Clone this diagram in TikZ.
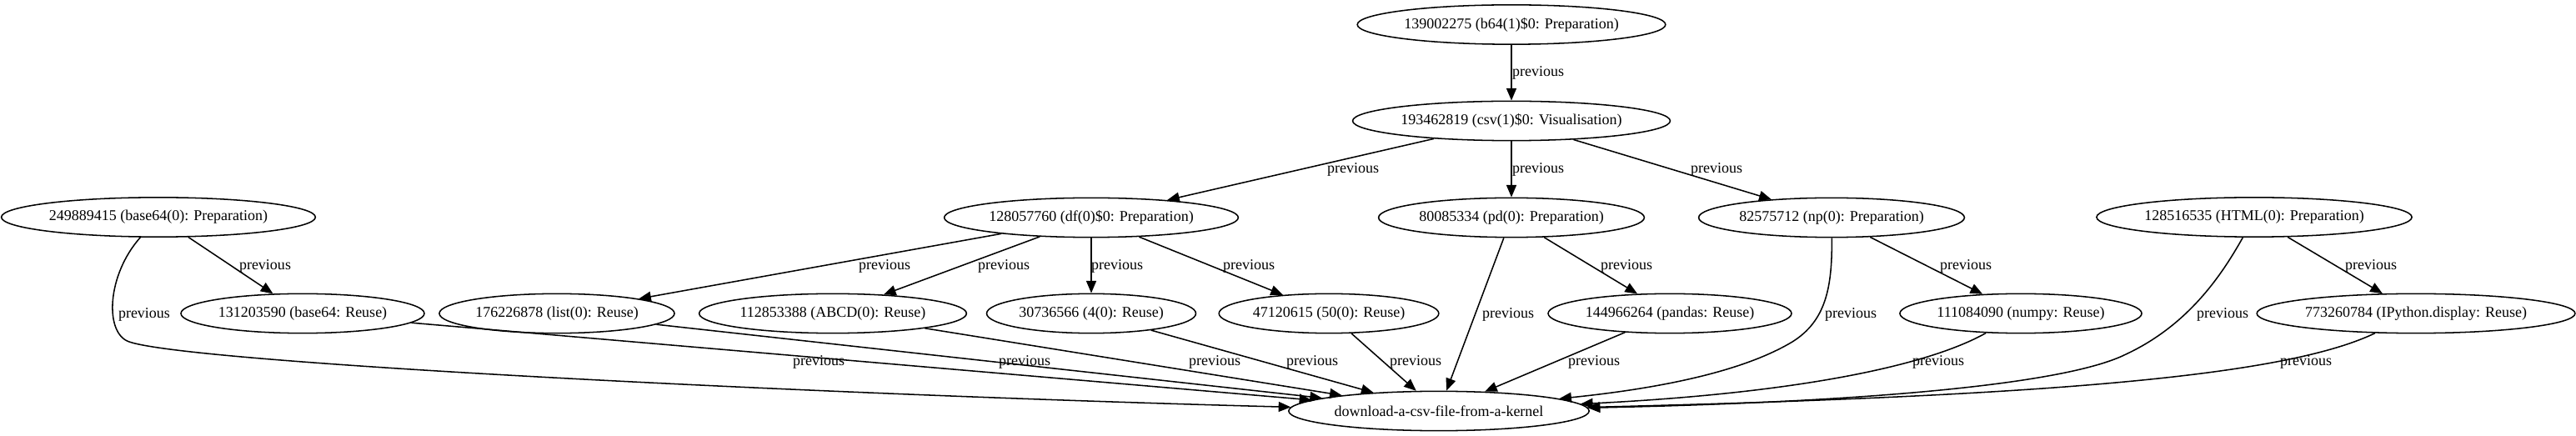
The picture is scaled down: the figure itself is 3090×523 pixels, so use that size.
\documentclass[tikz,border=0pt]{standalone}
\usepackage{fontspec}
\setmainfont{Liberation Serif}
\usetikzlibrary{shapes.geometric,arrows.meta}
\begin{document}
\begin{tikzpicture}[x=0.75pt,y=-0.75pt,
  every node/.style={font=\fontsize{13.5}{16}\selectfont},
  gnode/.style={ellipse,draw,line width=1.15pt,inner xsep=1.5pt,inner ysep=0pt,minimum height=35.5pt},
  lbl/.style={inner sep=0pt},
  edge/.style={line width=1.15pt,-{Triangle[length=11pt,width=9pt]}}]
\useasboundingbox (0,0) rectangle (3090,523);
% nodes
\node[gnode] (n1) at (1813,29.5) {139002275 (b64(1)\$0: Preparation)};
\node[gnode] (n2) at (1813,145) {193462819 (csv(1)\$0: Visualisation)};
\node[gnode] (a) at (190,260.5) {249889415 (base64(0): Preparation)};
\node[gnode] (b) at (1309,261) {128057760 (df(0)\$0: Preparation)};
\node[gnode] (c) at (1813,261) {80085334 (pd(0): Preparation)};
\node[gnode] (d) at (2197,261) {82575712 (np(0): Preparation)};
\node[gnode] (e) at (2704,260.5) {128516535 (HTML(0): Preparation)};
\node[gnode] (f) at (363,376) {131203590 (base64: Reuse)};
\node[gnode] (g) at (668,376) {176226878 (list(0): Reuse)};
\node[gnode] (h) at (999,376) {112853388 (ABCD(0): Reuse)};
\node[gnode] (i) at (1309,376) {30736566 (4(0): Reuse)};
\node[gnode] (j) at (1594,376) {47120615 (50(0): Reuse)};
\node[gnode] (k) at (2003,376) {144966264 (pandas: Reuse)};
\node[gnode] (l) at (2424,376) {111084090 (numpy: Reuse)};
\node[gnode] (m) at (2898,376) {773260784 (IPython.display: Reuse)};
\node[gnode] (t) at (1726,493) {download-a-csv-file-from-a-kernel};
% straight edges
\draw[edge] (n1) -- (n2);
\draw[edge] (n2) -- (b);
\draw[edge] (n2) -- (c);
\draw[edge] (n2) -- (d);
\draw[edge] (a) -- (f);
\draw[edge] (b) -- (g);
\draw[edge] (b) -- (h);
\draw[edge] (b) -- (i);
\draw[edge] (b) -- (j);
\draw[edge] (c) -- (k);
\draw[edge] (d) -- (l);
\draw[edge] (e) -- (m);
\draw[edge] (f) -- (t);
\draw[edge] (g) -- (t);
\draw[edge] (h) -- (t);
\draw[edge] (i) -- (t);
\draw[edge] (j) -- (t);
\draw[edge] (k) -- (t);
\draw[edge] (c) -- (t);
% curved edges
\draw[edge] (a) .. controls (128,330) and (125,400) .. (155,410) .. controls (230,436) and (1000,474) .. (t);
\draw[edge] (d) .. controls (2198,345) and (2190,385) .. (2150,410) .. controls (2090,446) and (1990,466) .. (t);
\draw[edge] (e) .. controls (2665,330) and (2625,390) .. (2550,425) .. controls (2480,460) and (2250,482) .. (t);
\draw[edge] (l) .. controls (2310,440) and (2150,472) .. (t);
\draw[edge] (m) .. controls (2740,452) and (2450,475) .. (t);
% labels
\node[lbl] (l1) at (1845,87) {previous};
\node[lbl] (l2) at (1623,203) {previous};
\node[lbl] (l3) at (1845,203) {previous};
\node[lbl] (l4) at (2059,203) {previous};
\node[lbl] (l5) at (318,319) {previous};
\node[lbl] (l6) at (173,377) {previous};
\node[lbl] (l7) at (1061,319) {previous};
\node[lbl] (l8) at (1204,319) {previous};
\node[lbl] (l9) at (1340,319) {previous};
\node[lbl] (l10) at (1498,319) {previous};
\node[lbl] (l11) at (1809,377) {previous};
\node[lbl] (l12) at (1951,319) {previous};
\node[lbl] (l13) at (2220,377) {previous};
\node[lbl] (l14) at (2358,319) {previous};
\node[lbl] (l15) at (2666,377) {previous};
\node[lbl] (l16) at (2844,319) {previous};
\node[lbl] (l17) at (982,434) {previous};
\node[lbl] (l18) at (1229,434) {previous};
\node[lbl] (l19) at (1457,434) {previous};
\node[lbl] (l20) at (1574,434) {previous};
\node[lbl] (l21) at (1698,434) {previous};
\node[lbl] (l22) at (1912,434) {previous};
\node[lbl] (l23) at (2325,434) {previous};
\node[lbl] (l24) at (2766,434) {previous};
\end{tikzpicture}
\end{document}
